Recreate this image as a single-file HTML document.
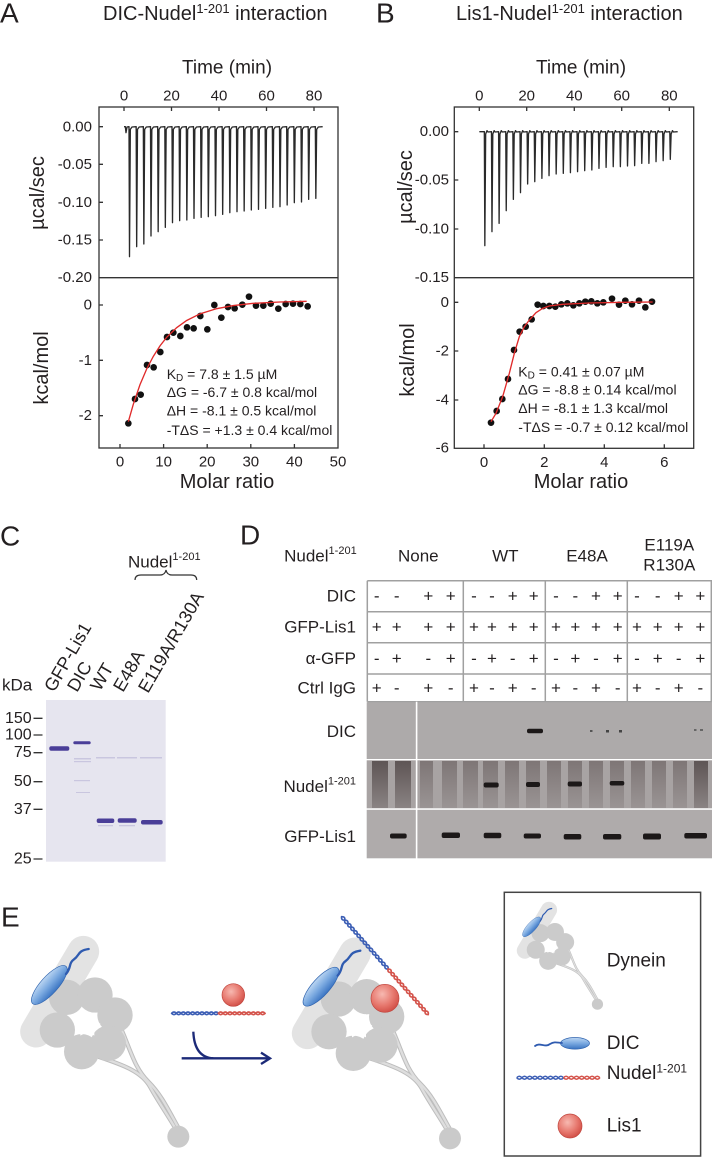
<!DOCTYPE html>
<html><head><meta charset="utf-8">
<style>
html,body{margin:0;padding:0;background:#fff;}
svg{display:block;}
text{font-family:"Liberation Sans",sans-serif;fill:#231f20;}
</style></head><body>
<svg width="712" height="1158" viewBox="0 0 712 1158" xmlns="http://www.w3.org/2000/svg" xmlns:xlink="http://www.w3.org/1999/xlink">
<defs>
  <linearGradient id="dicg" x1="0" y1="0" x2="0" y2="1">
    <stop offset="0" stop-color="#bcd6f2"/><stop offset="0.5" stop-color="#7aa9e0"/><stop offset="1" stop-color="#3a74c2"/>
  </linearGradient>
  <radialGradient id="lisg" cx="0.4" cy="0.35" r="0.7">
    <stop offset="0" stop-color="#f7b9b1"/><stop offset="0.6" stop-color="#e6766c"/><stop offset="1" stop-color="#cf4b43"/>
  </radialGradient>
  <linearGradient id="strk" x1="0" y1="0" x2="0" y2="1">
    <stop offset="0" stop-color="#7e7676"/><stop offset="1" stop-color="#9a9494"/>
  </linearGradient>
  <linearGradient id="strkd" x1="0" y1="0" x2="0" y2="1">
    <stop offset="0" stop-color="#5e5555"/><stop offset="1" stop-color="#8a8383"/>
  </linearGradient>
  <g id="dyn">
    <line x1="250" y1="215" x2="108" y2="455" stroke="#e3e3e3" stroke-width="95" stroke-linecap="round"/>
    <path d="M295,530 C370,555 425,575 450,620 S500,700 528,748" stroke="#bdbdbd" stroke-width="13" fill="none"/>
    <path d="M365,450 C395,520 405,565 445,605 S505,690 540,752" stroke="#bdbdbd" stroke-width="13" fill="none"/>
    <path d="M295,530 C370,555 425,575 450,620 S500,700 528,748" stroke="#dedede" stroke-width="7" fill="none"/>
    <path d="M365,450 C395,520 405,565 445,605 S505,690 540,752" stroke="#dedede" stroke-width="7" fill="none"/>
    <circle cx="535" cy="770" r="33" fill="#cacaca"/>
    <g fill="#cbcbcb">
      <circle cx="200" cy="352" r="53"/>
      <circle cx="285" cy="345" r="53"/>
      <circle cx="345" cy="405" r="53"/>
      <circle cx="325" cy="490" r="53"/>
      <circle cx="245" cy="515" r="53"/>
      <circle cx="172" cy="450" r="53"/>
    </g>
    <polygon fill="#fff" points="302,432 283,444 283,467 262,456 241,467 241,444 222,432 241,420 241,397 262,408 283,397 283,420"/>
    <ellipse cx="148" cy="315" rx="75" ry="26" transform="rotate(-48 148 315)" fill="url(#dicg)" stroke="#2f63ae" stroke-width="2"/>
    <path d="M198,282 C215,262 205,250 222,238 C240,225 232,212 266,207" stroke="#2f5bb0" stroke-width="7" fill="none" stroke-linecap="round"/>
  </g>
</defs>

<!-- ================= PANEL A ================= -->
<text x="0" y="13" font-size="28" dominant-baseline="central">A</text>
<text x="103" y="14" font-size="20" dominant-baseline="central">DIC-Nudel<tspan font-size="13" dy="-6">1-201</tspan><tspan dy="6"> interaction</tspan></text>
<text x="227" y="68" font-size="19" text-anchor="middle" dominant-baseline="central">Time (min)</text>
<g font-size="15" text-anchor="middle">
  <text x="124" y="96" dominant-baseline="central">0</text>
  <text x="171.5" y="96" dominant-baseline="central">20</text>
  <text x="219" y="96" dominant-baseline="central">40</text>
  <text x="266.5" y="96" dominant-baseline="central">60</text>
  <text x="314" y="96" dominant-baseline="central">80</text>
</g>
<g font-size="15" text-anchor="end">
  <text x="92" y="127" dominant-baseline="central">0.00</text>
  <text x="92" y="164.5" dominant-baseline="central">-0.05</text>
  <text x="92" y="202.3" dominant-baseline="central">-0.10</text>
  <text x="92" y="240" dominant-baseline="central">-0.15</text>
  <text x="92" y="277.7" dominant-baseline="central">-0.20</text>
  <text x="92" y="305" dominant-baseline="central">0</text>
  <text x="92" y="360.3" dominant-baseline="central">-1</text>
  <text x="92" y="415.7" dominant-baseline="central">-2</text>
</g>
<g font-size="15" text-anchor="middle">
  <text x="120" y="462" dominant-baseline="central">0</text>
  <text x="163.6" y="462" dominant-baseline="central">10</text>
  <text x="207.2" y="462" dominant-baseline="central">20</text>
  <text x="250.8" y="462" dominant-baseline="central">30</text>
  <text x="294.4" y="462" dominant-baseline="central">40</text>
  <text x="338" y="462" dominant-baseline="central">50</text>
</g>
<text x="227" y="482" font-size="20" text-anchor="middle" dominant-baseline="central">Molar ratio</text>
<text transform="translate(38,193) rotate(-90)" font-size="20" text-anchor="middle" dominant-baseline="central">µcal/sec</text>
<text transform="translate(42,368) rotate(-90)" font-size="20" text-anchor="middle" dominant-baseline="central">kcal/mol</text>

<g stroke="#333" stroke-width="1.3" fill="none">
  <rect x="99" y="107" width="239" height="341"/>
  <line x1="99" y1="277.7" x2="338" y2="277.7"/>
  <path d="M124,107v4M171.5,107v4M219,107v4M266.5,107v4M314,107v4"/>
  <path d="M99,126.7h4M99,164.3h4M99,202.3h4M99,240h4"/>
  <path d="M99,305h4M99,360.3h4M99,415.7h4"/>
  <path d="M120,448v-4M163.6,448v-4M207.2,448v-4M250.8,448v-4M294.4,448v-4"/>
</g>
<g transform="scale(0.33333)">
<path fill="none" stroke="#2a2a2a" stroke-width="4" stroke-linejoin="round" d="M372,380 L376,380 L378,398 L381,381 L386,380
L387,380 L388.5,770 L391,388 L396,381
L408.5,380 L410,740 L412.5,388 L417.5,381
L430,380 L431.5,732 L434,388 L439,381
L451.5,380 L453,708 L455.5,388 L460.5,381
L473,380 L474.5,695 L477,388 L482,381
L494.5,380 L496,682 L498.5,388 L503.5,381
L516,380 L517.5,668 L520,388 L525,381
L537.5,380 L539,662 L541.5,388 L546.5,381
L559,380 L560.5,660 L563,388 L568,381
L580.5,380 L582,655 L584.5,388 L589.5,381
L602,380 L603.5,652 L606,388 L611,381
L623.5,380 L625,650 L627.5,388 L632.5,381
L645,380 L646.5,647 L649,388 L654,381
L666.5,380 L668,643 L670.5,388 L675.5,381
L688,380 L689.5,638 L692,388 L697,381
L709.5,380 L711,635 L713.5,388 L718.5,381
L731,380 L732.5,633 L735,388 L740,381
L752.5,380 L754,630 L756.5,388 L761.5,381
L774,380 L775.5,628 L778,388 L783,381
L795.5,380 L797,625 L799.5,388 L804.5,381
L817,380 L818.5,622 L821,388 L826,381
L838.5,380 L840,620 L842.5,388 L847.5,381
L860,380 L861.5,615 L864,388 L869,381
L881.5,380 L883,608 L885.5,388 L890.5,381
L903,380 L904.5,606 L907,388 L912,381
L924.5,380 L926,598 L928.5,388 L933.5,381
L946,380 L947.5,595 L950,388 L955,381
L968,380"/>
</g>
<g transform="translate(0,270) scale(0.33333)">
  <g fill="#111">
    <circle cx="385" cy="460" r="10"/><circle cx="405" cy="387" r="10"/><circle cx="422" cy="374" r="10"/>
    <circle cx="441" cy="285" r="10"/><circle cx="461" cy="292" r="10"/><circle cx="481" cy="246" r="10"/>
    <circle cx="501" cy="201" r="10"/><circle cx="520" cy="188" r="10"/><circle cx="541" cy="198" r="10"/>
    <circle cx="561" cy="172" r="10"/><circle cx="581" cy="175" r="10"/><circle cx="601" cy="138" r="10"/>
    <circle cx="622" cy="178" r="10"/><circle cx="643" cy="105" r="10"/><circle cx="664" cy="143" r="10"/>
    <circle cx="684" cy="111" r="10"/><circle cx="704" cy="115" r="10"/><circle cx="727" cy="104" r="10"/>
    <circle cx="747" cy="80" r="10"/><circle cx="768" cy="107" r="10"/><circle cx="790" cy="107" r="10"/>
    <circle cx="812" cy="101" r="10"/><circle cx="835" cy="116" r="10"/><circle cx="857" cy="102" r="10"/>
    <circle cx="879" cy="101" r="10"/><circle cx="901" cy="102" r="10"/><circle cx="923" cy="109" r="10"/>
  </g>
  <polyline fill="none" stroke="#e02a2a" stroke-width="4" points="385,455 400,402.6 420,344 440,297 460,259 480,227.5 500,202 530,173 560,151.5 600,131.5 650,116 700,106.6 760,100 840,96 920,94"/>
</g>
<g font-size="14">
  <text x="166.7" y="374" dominant-baseline="central">K<tspan font-size="10" dy="4">D</tspan><tspan dy="-4"> = 7.8 ± 1.5 µM</tspan></text>
  <text x="166.7" y="392" dominant-baseline="central">ΔG = -6.7 ± 0.8 kcal/mol</text>
  <text x="166.7" y="410.7" dominant-baseline="central">ΔH = -8.1 ± 0.5 kcal/mol</text>
  <text x="166.7" y="430" dominant-baseline="central">-TΔS = +1.3 ± 0.4 kcal/mol</text>
</g>

<!-- ================= PANEL B ================= -->
<text x="376" y="13" font-size="28" dominant-baseline="central">B</text>
<text x="456" y="14" font-size="20" dominant-baseline="central">Lis1-Nudel<tspan font-size="13" dy="-6">1-201</tspan><tspan dy="6"> interaction</tspan></text>
<text x="581" y="68" font-size="19" text-anchor="middle" dominant-baseline="central">Time (min)</text>
<g font-size="15" text-anchor="middle">
  <text x="479.3" y="96" dominant-baseline="central">0</text>
  <text x="526.7" y="96" dominant-baseline="central">20</text>
  <text x="574.3" y="96" dominant-baseline="central">40</text>
  <text x="621.7" y="96" dominant-baseline="central">60</text>
  <text x="669.3" y="96" dominant-baseline="central">80</text>
</g>
<g font-size="15" text-anchor="end">
  <text x="449" y="131.7" dominant-baseline="central">0.00</text>
  <text x="449" y="180" dominant-baseline="central">-0.05</text>
  <text x="449" y="229" dominant-baseline="central">-0.10</text>
  <text x="449" y="277.7" dominant-baseline="central">-0.15</text>
  <text x="449" y="302.3" dominant-baseline="central">0</text>
  <text x="449" y="351" dominant-baseline="central">-2</text>
  <text x="449" y="400" dominant-baseline="central">-4</text>
  <text x="449" y="448" dominant-baseline="central">-6</text>
</g>
<g font-size="15" text-anchor="middle">
  <text x="484" y="462.7" dominant-baseline="central">0</text>
  <text x="544.3" y="462.7" dominant-baseline="central">2</text>
  <text x="604.3" y="462.7" dominant-baseline="central">4</text>
  <text x="664.3" y="462.7" dominant-baseline="central">6</text>
</g>
<text x="581" y="482" font-size="20" text-anchor="middle" dominant-baseline="central">Molar ratio</text>
<text transform="translate(406,187) rotate(-90)" font-size="20" text-anchor="middle" dominant-baseline="central">µcal/sec</text>
<text transform="translate(408,360) rotate(-90)" font-size="20" text-anchor="middle" dominant-baseline="central">kcal/mol</text>

<g stroke="#333" stroke-width="1.3" fill="none">
  <rect x="454.3" y="107" width="239.4" height="341.3"/>
  <line x1="454.3" y1="277.7" x2="693.7" y2="277.7"/>
  <path d="M479.3,107v4M526.7,107v4M574.3,107v4M621.7,107v4M669.3,107v4"/>
  <path d="M454.3,131.7h4M454.3,180h4M454.3,229h4"/>
  <path d="M454.3,302.3h4M454.3,351h4M454.3,400h4"/>
  <path d="M484,448.3v-4M544.3,448.3v-4M604.3,448.3v-4M664.3,448.3v-4"/>
</g>
<g transform="translate(356,0) scale(0.33333)">
<path fill="none" stroke="#2a2a2a" stroke-width="4" stroke-linejoin="round" d="M370,395
L385,395 L386.5,737 L389,402 L393,392 L396,396
L406.4,395 L407.9,695 L410.4,402 L414.4,392 L417.4,396
L427.8,395 L429.3,670 L431.8,402 L435.8,392 L438.8,396
L449.2,395 L450.7,632 L453.2,402 L457.2,392 L460.2,396
L470.6,395 L472.1,598 L474.6,402 L478.6,392 L481.6,396
L492,395 L493.5,578 L496,402 L500,392 L503,396
L513.4,395 L514.9,552 L517.4,402 L521.4,392 L524.4,396
L534.8,395 L536.3,545 L538.8,402 L542.8,392 L545.8,396
L556.2,395 L557.7,535 L560.2,402 L564.2,392 L567.2,396
L577.6,395 L579.1,527 L581.6,402 L585.6,392 L588.6,396
L599,395 L600.5,522 L603,402 L607,392 L610,396
L620.4,395 L621.9,520 L624.4,402 L628.4,392 L631.4,396
L641.8,395 L643.3,518 L645.8,402 L649.8,392 L652.8,396
L663.2,395 L664.7,515 L667.2,402 L671.2,392 L674.2,396
L684.6,395 L686.1,512 L688.6,402 L692.6,392 L695.6,396
L706,395 L707.5,510 L710,402 L714,392 L717,396
L727.4,395 L728.9,505 L731.4,402 L735.4,392 L738.4,396
L748.8,395 L750.3,502 L752.8,402 L756.8,392 L759.8,396
L770.2,395 L771.7,500 L774.2,402 L778.2,392 L781.2,396
L791.6,395 L793.1,500 L795.6,402 L799.6,392 L802.6,396
L813,395 L814.5,498 L817,402 L821,392 L824,396
L834.4,395 L835.9,497 L838.4,402 L842.4,392 L845.4,396
L855.8,395 L857.3,490 L859.8,402 L863.8,392 L866.8,396
L877.2,395 L878.7,490 L881.2,402 L885.2,392 L888.2,396
L898.6,395 L900.1,485 L902.6,402 L906.6,392 L909.6,396
L920,395 L921.5,482 L924,402 L928,392 L931,396
L941.4,395 L942.9,478 L945.4,402 L949.4,392 L952.4,396
L965,395"/>
</g>
<g transform="translate(356,270) scale(0.33333)">
  <g fill="#111">
    <circle cx="405" cy="458" r="10"/><circle cx="422" cy="423" r="10"/><circle cx="439" cy="387" r="10"/>
    <circle cx="456" cy="327" r="10"/><circle cx="474" cy="240" r="10"/><circle cx="491" cy="185" r="10"/>
    <circle cx="509" cy="170" r="10"/><circle cx="527" cy="148" r="10"/><circle cx="545" cy="104" r="10"/>
    <circle cx="562" cy="108" r="10"/><circle cx="580" cy="108" r="10"/><circle cx="598" cy="110" r="10"/>
    <circle cx="616" cy="103" r="10"/><circle cx="634" cy="100" r="10"/><circle cx="652" cy="106" r="10"/>
    <circle cx="670" cy="100" r="10"/><circle cx="688" cy="95" r="10"/><circle cx="706" cy="94" r="10"/>
    <circle cx="724" cy="100" r="10"/><circle cx="742" cy="97" r="10"/><circle cx="768" cy="86" r="10"/>
    <circle cx="789" cy="104" r="10"/><circle cx="808" cy="92" r="10"/><circle cx="828" cy="103" r="10"/>
    <circle cx="849" cy="92" r="10"/><circle cx="868" cy="112" r="10"/><circle cx="888" cy="95" r="10"/>
  </g>
  <polyline fill="none" stroke="#e02a2a" stroke-width="4" points="405,455 420,430 440,380 460,310 475,250 490,200 505,170 520,150 540,128 560,115 580,108 620,103 700,99 800,97 890,96"/>
</g>
<g font-size="14">
  <text x="518.3" y="371.7" dominant-baseline="central">K<tspan font-size="10" dy="4">D</tspan><tspan dy="-4"> = 0.41 ± 0.07 µM</tspan></text>
  <text x="518.3" y="389.5" dominant-baseline="central">ΔG = -8.8 ± 0.14 kcal/mol</text>
  <text x="518.3" y="408" dominant-baseline="central">ΔH = -8.1 ± 1.3 kcal/mol</text>
  <text x="518.3" y="427" dominant-baseline="central">-TΔS = -0.7 ± 0.12 kcal/mol</text>
</g>

<!-- ================= PANEL C ================= -->
<text x="0" y="536" font-size="28" dominant-baseline="central">C</text>
<text x="128" y="562" font-size="17" dominant-baseline="central">Nudel<tspan font-size="11" dy="-5">1-201</tspan></text>
<path d="M135,580 Q135,575 141,575 L160,575 Q165,575 166,570 Q167,575 172,575 L191,575 Q196.7,575 196.7,580" stroke="#333" stroke-width="1.2" fill="none"/>
<g font-size="18">
  <text transform="translate(54,693) rotate(-60)">GFP-Lis1</text>
  <text transform="translate(77,693) rotate(-60)">DIC</text>
  <text transform="translate(100,692) rotate(-60)">WT</text>
  <text transform="translate(123,693) rotate(-60)">E48A</text>
  <text transform="translate(148,694) rotate(-60)">E119A/R130A</text>
</g>
<text x="2" y="685" font-size="17" dominant-baseline="central">kDa</text>
<rect x="46" y="700" width="119.7" height="161.7" fill="#e6e5ef"/>
<g fill="#c9c6df">
  <rect x="96" y="757" width="19" height="1.5"/><rect x="117" y="757" width="20" height="1.5"/><rect x="140" y="757" width="22" height="1.5"/>
  <rect x="74" y="758" width="17" height="1.5"/><rect x="74" y="761" width="17" height="1.2"/>
  <rect x="74" y="780" width="16" height="1.2"/><rect x="76" y="792" width="14" height="1"/>
  <rect x="98" y="825" width="15" height="1.3"/><rect x="119" y="825" width="16" height="1.3"/>
</g>
<g fill="#4a3e98">
  <rect x="49.3" y="746.3" width="20" height="4.5" rx="2"/>
  <rect x="73.3" y="741.3" width="17.4" height="3" rx="1.5"/>
  <rect x="96.7" y="818.5" width="17.6" height="4.5" rx="2"/>
  <rect x="117.7" y="818.3" width="19" height="4.5" rx="2"/>
  <rect x="141" y="820" width="21.7" height="4.5" rx="2"/>
</g>
<g font-size="16" text-anchor="end">
  <text x="31.7" y="718.3" dominant-baseline="central">150</text>
  <text x="31.7" y="735" dominant-baseline="central">100</text>
  <text x="31.7" y="752.7" dominant-baseline="central">75</text>
  <text x="31.7" y="781.7" dominant-baseline="central">50</text>
  <text x="31.7" y="809.3" dominant-baseline="central">37</text>
  <text x="31.7" y="859" dominant-baseline="central">25</text>
</g>
<path d="M33.5,718.3h9M33.5,735h9M33.5,752.7h9M33.5,781.7h9M33.5,809.3h9M33.5,859h9" stroke="#333" stroke-width="1.3"/>

<!-- ================= PANEL D ================= -->
<text x="240" y="535" font-size="28" dominant-baseline="central">D</text>
<g font-size="17">
  <text x="356.7" y="556" text-anchor="end" dominant-baseline="central">Nudel<tspan font-size="11" dy="-5">1-201</tspan></text>
  <text x="418.3" y="556" text-anchor="middle" dominant-baseline="central">None</text>
  <text x="505.3" y="556" text-anchor="middle" dominant-baseline="central">WT</text>
  <text x="587" y="556" text-anchor="middle" dominant-baseline="central">E48A</text>
  <text x="669.3" y="545" text-anchor="middle" dominant-baseline="central">E119A</text>
  <text x="669.3" y="565" text-anchor="middle" dominant-baseline="central">R130A</text>
  <text x="356" y="596.2" text-anchor="end" dominant-baseline="central">DIC</text>
  <text x="356" y="627.2" text-anchor="end" dominant-baseline="central">GFP-Lis1</text>
  <text x="356" y="658.4" text-anchor="end" dominant-baseline="central">α-GFP</text>
  <text x="356" y="687.9" text-anchor="end" dominant-baseline="central">Ctrl IgG</text>
  <text x="356" y="731.7" text-anchor="end" dominant-baseline="central">DIC</text>
  <text x="356" y="786.7" text-anchor="end" dominant-baseline="central">Nudel<tspan font-size="11" dy="-5">1-201</tspan></text>
  <text x="356" y="836.7" text-anchor="end" dominant-baseline="central">GFP-Lis1</text>
</g>
<g stroke="#a0a0a0" stroke-width="1.5" fill="none">
  <path d="M367.3,580.7H712M367.3,611.7H712M367.3,642.7H712M367.3,674H712M367.3,701.7H712"/>
  <path d="M367.3,580.7V701.7M463.3,580.7V701.7M545.3,580.7V701.7M627.3,580.7V701.7M711.3,580.7V701.7"/>
</g>
<g font-size="17" text-anchor="middle">
  <text x="376.7" y="596.2" dominant-baseline="central">-</text><text x="396.7" y="596.2" dominant-baseline="central">-</text><text x="428.3" y="596.2" dominant-baseline="central">+</text><text x="450.7" y="596.2" dominant-baseline="central">+</text>
  <text x="474" y="596.2" dominant-baseline="central">-</text><text x="492" y="596.2" dominant-baseline="central">-</text><text x="512.7" y="596.2" dominant-baseline="central">+</text><text x="533.7" y="596.2" dominant-baseline="central">+</text>
  <text x="556" y="596.2" dominant-baseline="central">-</text><text x="575.3" y="596.2" dominant-baseline="central">-</text><text x="596" y="596.2" dominant-baseline="central">+</text><text x="617.7" y="596.2" dominant-baseline="central">+</text>
  <text x="637" y="596.2" dominant-baseline="central">-</text><text x="657.7" y="596.2" dominant-baseline="central">-</text><text x="678.7" y="596.2" dominant-baseline="central">+</text><text x="700.3" y="596.2" dominant-baseline="central">+</text>
  <text x="376.7" y="627.2" dominant-baseline="central">+</text><text x="396.7" y="627.2" dominant-baseline="central">+</text><text x="428.3" y="627.2" dominant-baseline="central">+</text><text x="450.7" y="627.2" dominant-baseline="central">+</text>
  <text x="474" y="627.2" dominant-baseline="central">+</text><text x="492" y="627.2" dominant-baseline="central">+</text><text x="512.7" y="627.2" dominant-baseline="central">+</text><text x="533.7" y="627.2" dominant-baseline="central">+</text>
  <text x="556" y="627.2" dominant-baseline="central">+</text><text x="575.3" y="627.2" dominant-baseline="central">+</text><text x="596" y="627.2" dominant-baseline="central">+</text><text x="617.7" y="627.2" dominant-baseline="central">+</text>
  <text x="637" y="627.2" dominant-baseline="central">+</text><text x="657.7" y="627.2" dominant-baseline="central">+</text><text x="678.7" y="627.2" dominant-baseline="central">+</text><text x="700.3" y="627.2" dominant-baseline="central">+</text>
  <text x="376.7" y="658.4" dominant-baseline="central">-</text><text x="396.7" y="658.4" dominant-baseline="central">+</text><text x="428.3" y="658.4" dominant-baseline="central">-</text><text x="450.7" y="658.4" dominant-baseline="central">+</text>
  <text x="474" y="658.4" dominant-baseline="central">-</text><text x="492" y="658.4" dominant-baseline="central">+</text><text x="512.7" y="658.4" dominant-baseline="central">-</text><text x="533.7" y="658.4" dominant-baseline="central">+</text>
  <text x="556" y="658.4" dominant-baseline="central">-</text><text x="575.3" y="658.4" dominant-baseline="central">+</text><text x="596" y="658.4" dominant-baseline="central">-</text><text x="617.7" y="658.4" dominant-baseline="central">+</text>
  <text x="637" y="658.4" dominant-baseline="central">-</text><text x="657.7" y="658.4" dominant-baseline="central">+</text><text x="678.7" y="658.4" dominant-baseline="central">-</text><text x="700.3" y="658.4" dominant-baseline="central">+</text>
  <text x="376.7" y="687.9" dominant-baseline="central">+</text><text x="396.7" y="687.9" dominant-baseline="central">-</text><text x="428.3" y="687.9" dominant-baseline="central">+</text><text x="450.7" y="687.9" dominant-baseline="central">-</text>
  <text x="474" y="687.9" dominant-baseline="central">+</text><text x="492" y="687.9" dominant-baseline="central">-</text><text x="512.7" y="687.9" dominant-baseline="central">+</text><text x="533.7" y="687.9" dominant-baseline="central">-</text>
  <text x="556" y="687.9" dominant-baseline="central">+</text><text x="575.3" y="687.9" dominant-baseline="central">-</text><text x="596" y="687.9" dominant-baseline="central">+</text><text x="617.7" y="687.9" dominant-baseline="central">-</text>
  <text x="637" y="687.9" dominant-baseline="central">+</text><text x="657.7" y="687.9" dominant-baseline="central">-</text><text x="678.7" y="687.9" dominant-baseline="central">+</text><text x="700.3" y="687.9" dominant-baseline="central">-</text>
</g>
<rect x="366.7" y="702.2" width="345.3" height="56.8" fill="#adaaaa"/>
<rect x="366.7" y="760.3" width="345.3" height="48" fill="#a8a3a3"/>
<rect x="366.7" y="809.8" width="345.3" height="48.5" fill="#afabab"/>
<g>
  <rect x="372" y="761" width="16" height="47" fill="url(#strkd)"/>
  <rect x="395" y="761" width="16" height="47" fill="url(#strkd)"/>
  <rect x="420" y="761" width="13" height="47" fill="url(#strk)"/>
  <rect x="442" y="761" width="15" height="47" fill="url(#strk)"/>
  <rect x="463" y="761" width="15" height="47" fill="url(#strk)"/>
  <rect x="483" y="761" width="15" height="47" fill="url(#strk)"/>
  <rect x="505" y="761" width="14" height="47" fill="url(#strk)"/>
  <rect x="526" y="761" width="14" height="47" fill="url(#strk)"/>
  <rect x="547" y="761" width="14" height="47" fill="url(#strk)"/>
  <rect x="568" y="761" width="14" height="47" fill="url(#strk)"/>
  <rect x="589" y="761" width="14" height="47" fill="url(#strk)"/>
  <rect x="610" y="761" width="14" height="47" fill="url(#strk)"/>
  <rect x="631" y="761" width="14" height="47" fill="url(#strk)"/>
  <rect x="652" y="761" width="14" height="47" fill="url(#strk)"/>
  <rect x="673" y="761" width="14" height="47" fill="url(#strk)"/>
  <rect x="694" y="761" width="14" height="47" fill="url(#strkd)"/>
</g>
<rect x="415.8" y="701.7" width="1.6" height="157" fill="#fff"/>
<g fill="#1c1818">
  <rect x="527" y="728.7" width="16" height="4.5" rx="2"/>
  <rect x="590" y="730" width="2.5" height="2" fill="#555"/><rect x="606" y="730" width="3" height="2.5" fill="#444"/><rect x="619" y="730" width="3" height="2.5" fill="#444"/>
  <rect x="694" y="729" width="2.5" height="2" fill="#666"/><rect x="700" y="729" width="3" height="2" fill="#666"/>
  <rect x="483.7" y="782.5" width="15" height="5" rx="2"/>
  <rect x="526" y="782" width="14" height="5" rx="2"/>
  <rect x="567.7" y="781.5" width="14.3" height="5" rx="2"/>
  <rect x="609.7" y="781" width="14.6" height="4.5" rx="2"/>
  <rect x="390" y="833.5" width="16.7" height="5" rx="2"/>
  <rect x="441.7" y="832.5" width="18.3" height="5.5" rx="2"/>
  <rect x="483.7" y="832.8" width="17.6" height="5.5" rx="2"/>
  <rect x="523.7" y="833.5" width="17.3" height="5" rx="2"/>
  <rect x="563.7" y="834" width="17.6" height="5.5" rx="2"/>
  <rect x="603" y="834" width="18.3" height="5.5" rx="2"/>
  <rect x="643" y="833.5" width="18" height="6" rx="2"/>
  <rect x="684.3" y="833" width="22.7" height="5.5" rx="2"/>
</g>

<!-- ================= PANEL E ================= -->
<text x="1" y="917" font-size="28" dominant-baseline="central">E</text>
<g transform="translate(0,880) scale(0.33333)">
  <use xlink:href="#dyn" href="#dyn"/>
  <circle cx="700" cy="345" r="34" fill="url(#lisg)" stroke="#c0463e" stroke-width="2"/>
  <g fill="none" stroke-width="5" stroke-linecap="round">
    <path d="M515,400 q7,-8 14,0 t14,0 14,0 14,0 14,0 14,0 14,0 14,0 14,0 14,0" stroke="#3d5fb5"/>
    <path d="M515,400 q7,8 14,0 t14,0 14,0 14,0 14,0 14,0 14,0 14,0 14,0 14,0" stroke="#3d5fb5"/>
    <path d="M655,400 q7,-8 14,0 t14,0 14,0 14,0 14,0 14,0 14,0 14,0 14,0 14,0" stroke="#d4544c"/>
    <path d="M655,400 q7,8 14,0 t14,0 14,0 14,0 14,0 14,0 14,0 14,0 14,0 14,0" stroke="#d4544c"/>
  </g>
  <g fill="none" stroke="#1c2a78" stroke-width="7">
    <path d="M580,455 Q583,532 640,535"/>
    <line x1="545" y1="535" x2="808" y2="535"/>
    <polyline points="783,518 810,535 783,552" stroke-linejoin="miter"/>
  </g>
  <use xlink:href="#dyn" href="#dyn" transform="translate(815,5)"/>
  <circle cx="1155" cy="355" r="42" fill="url(#lisg)" stroke="#c0463e" stroke-width="2"/>
  <g transform="translate(1025,110) rotate(48.5)" fill="none" stroke-width="5" stroke-linecap="round">
    <path d="M0,0 q7,-9 14,0 t14,0 14,0 14,0 14,0 14,0 14,0 14,0 14,0 14,0 14,0 14,0 14,0 14,0 14,0" stroke="#3d5fb5"/>
    <path d="M0,0 q7,9 14,0 t14,0 14,0 14,0 14,0 14,0 14,0 14,0 14,0 14,0 14,0 14,0 14,0 14,0 14,0" stroke="#3d5fb5"/>
    <path d="M210,0 q7,-9 14,0 t14,0 14,0 14,0 14,0 14,0 14,0 14,0 14,0 14,0 14,0 14,0 14,0" stroke="#d4544c"/>
    <path d="M210,0 q7,9 14,0 t14,0 14,0 14,0 14,0 14,0 14,0 14,0 14,0 14,0 14,0 14,0 14,0" stroke="#d4544c"/>
  </g>
</g>
<rect x="504.3" y="892.3" width="196.3" height="263.7" fill="none" stroke="#444" stroke-width="1.5"/>
<use xlink:href="#dyn" href="#dyn" transform="translate(506.5,873.3) scale(0.17)"/>
<ellipse cx="575" cy="1043.3" rx="14.5" ry="5.8" fill="url(#dicg)" stroke="#2f63ae" stroke-width="0.7"/>
<path d="M535,1046 C540,1042 545,1048 550,1044 C555,1041 558,1043 562,1043" stroke="#2f5bb0" stroke-width="1.8" fill="none" stroke-linecap="round"/>
<g fill="none" stroke-width="1.5">
  <path d="M516.7,1077.7 q2.6,-3 5.2,0 t5.2,0 5.2,0 5.2,0 5.2,0 5.2,0 5.2,0 5.2,0 5.2,0" stroke="#3d5fb5"/>
  <path d="M516.7,1077.7 q2.6,3 5.2,0 t5.2,0 5.2,0 5.2,0 5.2,0 5.2,0 5.2,0 5.2,0 5.2,0" stroke="#3d5fb5"/>
  <path d="M563.5,1077.7 q2.6,-3 5.2,0 t5.2,0 5.2,0 5.2,0 5.2,0 5.2,0 5.2,0" stroke="#d4544c"/>
  <path d="M563.5,1077.7 q2.6,3 5.2,0 t5.2,0 5.2,0 5.2,0 5.2,0 5.2,0 5.2,0" stroke="#d4544c"/>
</g>
<circle cx="570" cy="1126" r="12" fill="url(#lisg)" stroke="#c0463e" stroke-width="0.7"/>
<g font-size="19">
  <text x="606.7" y="961" dominant-baseline="central">Dynein</text>
  <text x="606.7" y="1043.3" dominant-baseline="central">DIC</text>
  <text x="606.7" y="1073.3" dominant-baseline="central">Nudel<tspan font-size="12" dy="-5">1-201</tspan></text>
  <text x="606.7" y="1126" dominant-baseline="central">Lis1</text>
</g>
</svg>
</body></html>
